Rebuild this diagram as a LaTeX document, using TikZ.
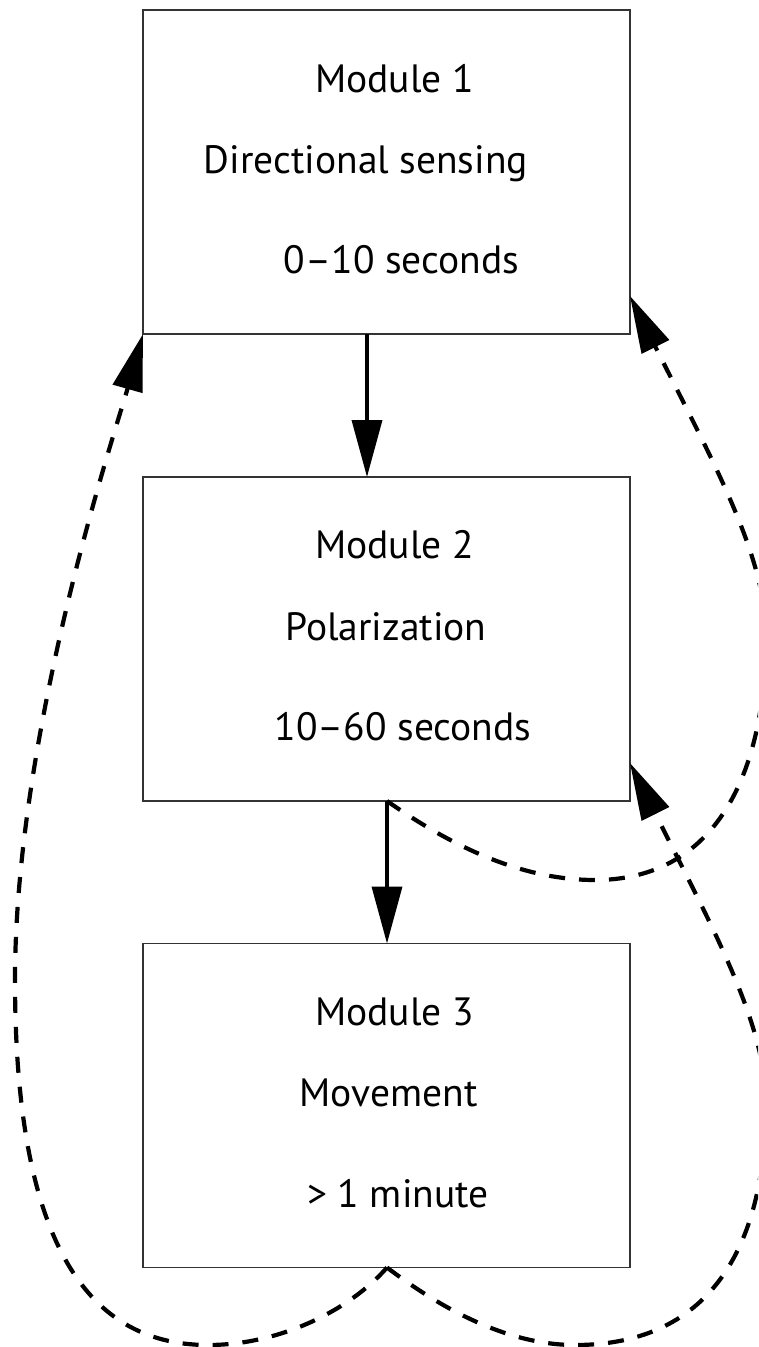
\documentclass[tikz,border=0pt]{standalone}
\usepackage{fontspec}
\setmainfont{PT Sans}
\usetikzlibrary{arrows.meta,calc}
\begin{document}
\begin{tikzpicture}[x=1pt,y=-1pt,
  box/.style={draw=black!80,line width=1.2pt,minimum width=487pt,minimum height=324pt,inner sep=0pt,outer sep=0pt},
  lbl/.style={anchor=base,inner sep=0pt,font=\fontsize{39.5}{45}\selectfont},
  tiparrow/.style={-{Triangle[length=57pt,width=30pt]}},
  solidarrow/.style={tiparrow,line width=3.6pt},
  dasharrow/.style={tiparrow,line width=4.2pt,dash pattern=on 16pt off 14pt}]
\useasboundingbox (0,0) rectangle (758,1347);
\clip (0,0) rectangle (758,1347);
% boxes
\node[box] (m1) at (386.5,172) {};
\node[box] (m2) at (386.5,639) {};
\node[box] (m3) at (386.5,1105.5) {};
% texts
\node[lbl] (m1a) at (394.5,92) {Module 1};
\node[lbl] (m1b) at (366,173) {Directional sensing};
\node[lbl] (m1c) at (401.5,273) {0–10 seconds};
\node[lbl] (m2a) at (394.5,558) {Module 2};
\node[lbl] (m2b) at (386,640) {Polarization};
\node[lbl] (m2c) at (403,740) {10–60 seconds};
\node[lbl] (m3a) at (394.5,1025) {Module 3};
\node[lbl] (m3b) at (388.5,1106) {Movement};
\node[lbl] (m3c) at (398,1207) {> 1 minute};
% helper x positions
\coordinate (x367) at (367,0);
\coordinate (x387) at (387,0);
% solid arrows
\draw[solidarrow] (x367 |- m1.south) -- (x367 |- m2.north);
\draw[solidarrow] (x387 |- m2.south) -- (x387 |- m3.north);
% dashed feedback arrows
\draw[dasharrow] (x387 |- m3.south) .. controls (350,1310) and (280,1345) .. (208,1345)
  .. controls (80,1345) and (15,1230) .. (15,980)
  .. controls (15,730) and (117,426) .. (m1.south west);
\draw[dasharrow] (x387 |- m3.south) .. controls (430,1300) and (500,1345) .. (575,1345)
  .. controls (715,1345) and (766,1240) .. (766,1103)
  .. controls (766,1023) and (710.5,924) .. ($(m2.south east)+(0,-38)$);
\draw[dasharrow] (x387 |- m2.south) .. controls (450,845) and (520,880) .. (595,880)
  .. controls (715,880) and (766,775) .. (766,635)
  .. controls (766,555) and (710.5,457) .. ($(m1.south east)+(0,-38)$);
\end{tikzpicture}
\end{document}
